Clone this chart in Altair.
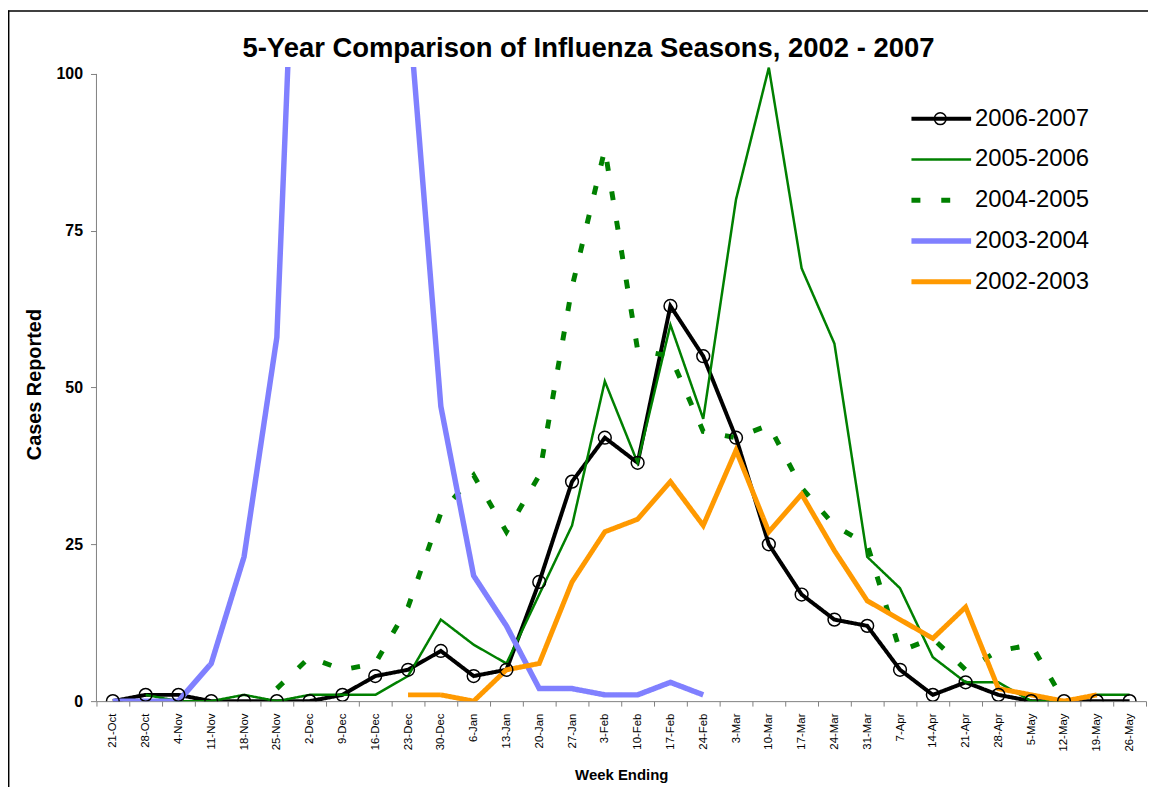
import altair as alt
import pandas as pd

weeks = ["21-Oct", "28-Oct", "4-Nov", "11-Nov", "18-Nov", "25-Nov", "2-Dec", "9-Dec",
         "16-Dec", "23-Dec", "30-Dec", "6-Jan", "13-Jan", "20-Jan", "27-Jan", "3-Feb",
         "10-Feb", "17-Feb", "24-Feb", "3-Mar", "10-Mar", "17-Mar", "24-Mar", "31-Mar",
         "7-Apr", "14-Apr", "21-Apr", "28-Apr", "5-May", "12-May", "19-May", "26-May"]
N = None
s_2006_2007 = [0, 1, 1, 0, 0, 0, 0, 1, 4, 5, 8, 4, 5, 19, 35, 42, 38, 63, 55, 42,
               25, 17, 13, 12, 5, 1, 3, 1, 0, 0, 0, 0]
s_2005_2006 = [N, 1, 0, 0, 1, 0, 1, 1, 1, 4, 13, 9, 6, 17, 28, 51, 38, 60, 45, 80,
               101, 69, 57, 23, 18, 7, 3, 3, 0, 0, 1, 1]
s_2004_2005 = [N, N, N, N, N, 2, 7, 5, 6, 15, 30, 36, 27, 36, 66, 88, 56, 55, 43, 42,
               44, 34, 28, 25, 8, 10, 5, 8, 9, 0, N, N]
s_2003_2004 = [0, 0, 0, 6, 23, 58, 187, 230, 180, 112, 47, 20, 12, 2, 2, 1, 1, 3, 1,
               N, N, N, N, N, N, N, N, N, N, N, N, N]
s_2002_2003 = [N, N, N, N, N, N, N, N, N, 1, 1, 0, 5, 6, 19, 27, 29, 35, 28, 40,
               27, 33, 24, 16, 13, 10, 15, 2, 1, 0, 1, N]

series_names = ["2006-2007", "2005-2006", "2004-2005", "2003-2004", "2002-2003"]
series_values = [s_2006_2007, s_2005_2006, s_2004_2005, s_2003_2004, s_2002_2003]
colors = ["#000000", "#008000", "#008000", "#8080FF", "#FF9900"]
dashes = [[1, 0], [1, 0], [9, 21], [1, 0], [1, 0]]
widths = [4, 2.5, 5, 5.5, 5]

rows = []
for name, vals in zip(series_names, series_values):
    for w, v in zip(weeks, vals):
        if v is not None:
            rows.append({"week": w, "cases": v, "series": name, "marker": name})
df = pd.DataFrame(rows)
df_marked = df[df["series"] == "2006-2007"]
one = pd.DataFrame({"a": [0]})

FONT = "Liberation Sans"

x_enc = alt.X("week:N",
              scale=alt.Scale(type="band", domain=weeks, paddingInner=0, paddingOuter=0),
              axis=alt.Axis(title="Week Ending", tickBand="extent", labelAngle=-90,
                            labelAlign="right", labelBaseline="middle"))
y_enc = alt.Y("cases:Q",
              scale=alt.Scale(domain=[0, 101.1], nice=False, zero=True),
              axis=alt.Axis(title="Cases Reported", values=[0, 25, 50, 75, 100],
                            domain=False, grid=False))

lines = alt.Chart(df).mark_line(clip=True, strokeCap="butt", strokeJoin="miter").encode(
    x=x_enc,
    y=y_enc,
    color=alt.Color("series:N", title=None,
                    scale=alt.Scale(domain=series_names, range=colors)),
    strokeDash=alt.StrokeDash("series:N", title=None,
                              scale=alt.Scale(domain=series_names, range=dashes)),
    strokeWidth=alt.StrokeWidth("series:N", title=None,
                                scale=alt.Scale(type="ordinal", domain=series_names,
                                                range=widths)),
)

points = alt.Chart(df_marked).mark_point(
    filled=False, color="black", strokeWidth=1.5, size=165, opacity=1, clip=True
).encode(
    x=x_enc,
    y=y_enc,
    shape=alt.Shape("marker:N",
                    scale=alt.Scale(domain=["2006-2007"], range=["circle"]),
                    legend=alt.Legend(title=None, orient="none", legendX=837, legendY=40,
                                      symbolType="circle", symbolSize=140,
                                      symbolStrokeColor="black", symbolStrokeWidth=1.5,
                                      symbolFillColor="transparent",
                                      labelExpr="' '", labelFontSize=24)),
)

y_line = alt.Chart(one).mark_rule(color="#808080", strokeWidth=1).encode(
    x=alt.value(0), y=alt.Y(datum=0), y2=alt.datum(100))

frame_top = alt.Chart(one).mark_rule(color="black", strokeWidth=1.5).encode(
    x=alt.value(-89), x2=alt.value(1060), y=alt.value(-56.3))
frame_left = alt.Chart(one).mark_rule(color="black", strokeWidth=1.5).encode(
    x=alt.value(-88.3), y=alt.value(-57), y2=alt.value(725))

chart = alt.layer(frame_top, frame_left, lines, points, y_line).properties(
    width=1056,
    height=638,
    title=alt.TitleParams("5-Year Comparison of Influenza Seasons, 2002 - 2007",
                          font=FONT, fontSize=27.6, fontWeight="bold", color="black",
                          anchor="middle", frame="group", dx=-33, offset=-53),
    autosize=alt.AutoSizeParams(type="none"),
    padding={"left": 89, "top": 57, "right": 2, "bottom": 84},
).configure_view(stroke=None).configure_axis(
    labelFont=FONT, titleFont=FONT, labelColor="black", titleColor="black",
    domainColor="#808080", tickColor="#808080", grid=False,
).configure_axisX(
    labelFontSize=11.5, tickSize=5, labelPadding=7, titleFontSize=15,
    titleFontWeight="bold", titlePadding=16,
).configure_axisY(
    labelFontSize=16, labelFontWeight="bold", tickSize=6, labelPadding=8,
    titleFontSize=20, titleFontWeight="bold", titlePadding=12,
).configure_legend(
    orient="none", legendX=838, legendY=40, symbolType="M-6,0H6", symbolSize=100,
    labelFont=FONT, labelFontSize=24, labelColor="black", rowPadding=17, padding=0,
    labelOffset=22, symbolFillColor="transparent",
)

chart.save("out.html", embed_options={"renderer": "svg", "actions": False})
